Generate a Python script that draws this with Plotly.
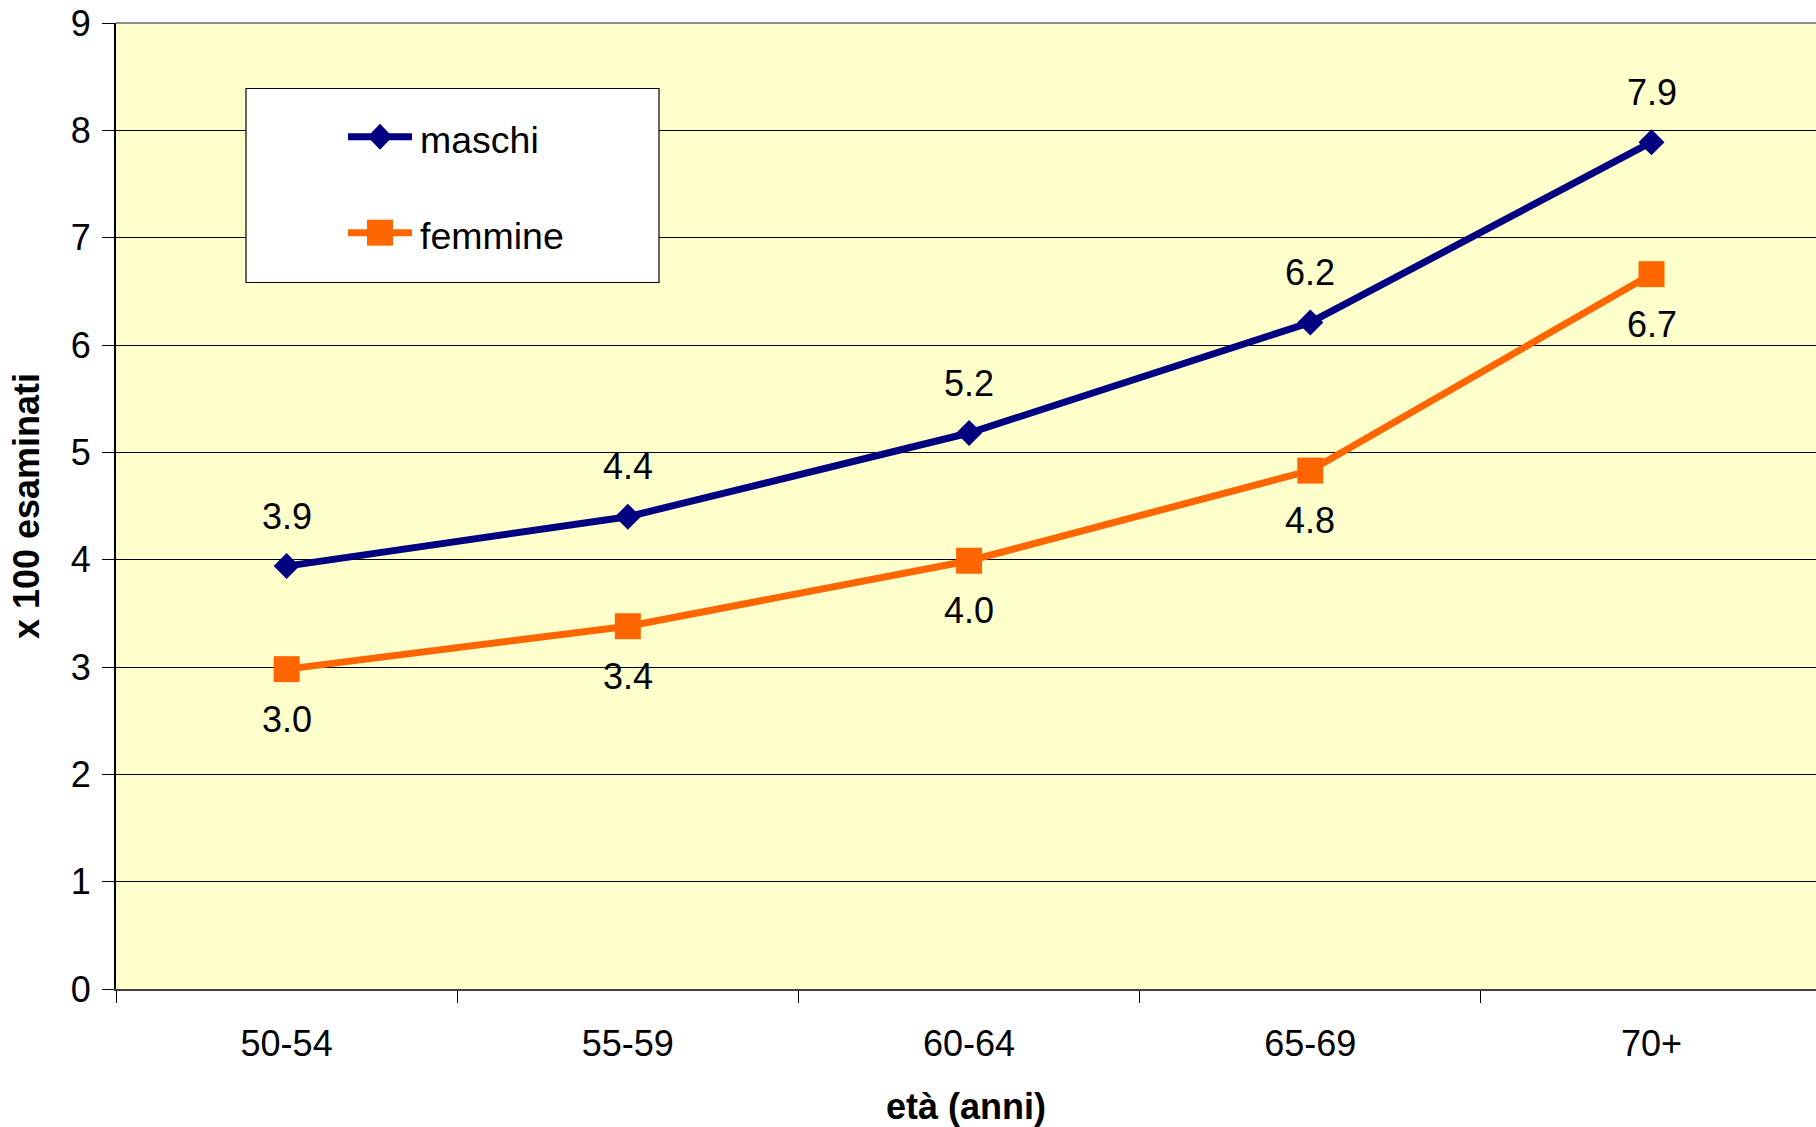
import plotly.graph_objects as go

# Age groups and rates (per 100 examined)
categories = ["50-54", "55-59", "60-64", "65-69", "70+"]
maschi = [3.94, 4.40, 5.18, 6.21, 7.89]
femmine = [2.98, 3.38, 3.99, 4.83, 6.66]
y_ticks = list(range(0, 10))

NAVY = "#000080"
ORANGE = "#FF6600"
FONT = "Liberation Sans, Arial, sans-serif"
FS = 36

W, H = 1816, 1127
ML, MR, MT, MB = 116, 0, 23, 138
PW, PH = W - ML - MR, H - MT - MB


def px(x):
    return (x - ML) / PW


def py(y):
    return (H - MB - y) / PH


fig = go.Figure()
fig.add_trace(go.Scatter(
    x=categories, y=maschi, mode="lines+markers", name="maschi",
    line=dict(color=NAVY, width=7),
    marker=dict(symbol="diamond", size=20, color=NAVY),
    showlegend=False,
))
fig.add_trace(go.Scatter(
    x=categories, y=femmine, mode="lines+markers", name="femmine",
    line=dict(color=ORANGE, width=7),
    marker=dict(symbol="square", size=26, color=ORANGE),
    showlegend=False,
))

# value labels: males above, females below the points
annotations = []
for c, v in zip(categories, maschi):
    annotations.append(dict(x=c, y=v, xref="x", yref="y", text=f"{v:.1f}",
                            showarrow=False, yshift=50,
                            font=dict(family=FONT, size=FS, color="black")))
for c, v in zip(categories, femmine):
    annotations.append(dict(x=c, y=v, xref="x", yref="y", text=f"{v:.1f}",
                            showarrow=False, yshift=-50,
                            font=dict(family=FONT, size=FS, color="black")))

# legend box
shapes = [
    dict(type="rect", xref="paper", yref="paper",
         x0=px(246), x1=px(659), y0=py(282.5), y1=py(88.5),
         fillcolor="white", line=dict(color="black", width=1.2), layer="above"),
    dict(type="line", xref="paper", yref="paper", x0=0, x1=1, y0=1, y1=1,
         line=dict(color="#8c8c8c", width=2), layer="above"),
]
legend_items = [
    ("maschi", NAVY, "M0,13L12.5,0L0,-13L-12.5,0Z", 136.7),
    ("femmine", ORANGE, "M-13,13H13V-13H-13Z", 232.7),
]
for label, color, path, yc in legend_items:
    shapes.append(dict(type="line", xref="paper", yref="paper",
                       x0=px(348), x1=px(412), y0=py(yc), y1=py(yc),
                       line=dict(color=color, width=7), layer="above"))
    shapes.append(dict(type="path", xref="paper", yref="paper",
                       xsizemode="pixel", ysizemode="pixel",
                       xanchor=px(380), yanchor=py(yc), path=path,
                       fillcolor=color, line=dict(width=0), layer="above"))
    annotations.append(dict(x=px(418), y=py(yc + 3), xref="paper", yref="paper",
                            xanchor="left", yanchor="middle", text=label,
                            showarrow=False,
                            font=dict(family=FONT, size=37.5, color="black")))

fig.update_layout(
    width=W, height=H,
    margin=dict(l=ML, r=MR, t=MT, b=MB, pad=0),
    paper_bgcolor="white",
    plot_bgcolor="#FFFFCC",
    font=dict(family=FONT, size=FS, color="black"),
    shapes=shapes,
    annotations=annotations,
    xaxis=dict(
        type="category",
        range=[-0.5, 4.482],
        tickson="boundaries",
        ticks="outside", ticklen=12, tickcolor="black", tickwidth=1,
        showgrid=False,
        showline=True, linecolor="#3f3f3f", linewidth=2,
        tickfont=dict(family=FONT, size=FS, color="black"),
        ticklabelstandoff=22,
        title=dict(text="<b>età (anni)</b>", standoff=31,
                   font=dict(family=FONT, size=FS, color="black")),
    ),
    yaxis=dict(
        range=[0, 9],
        tickvals=y_ticks,
        ticks="outside", ticklen=12, tickcolor="black", tickwidth=1,
        showgrid=True, gridcolor="black", gridwidth=1,
        zeroline=False,
        showline=True, linecolor="black", linewidth=2,
        tickfont=dict(family=FONT, size=FS, color="black"),
        ticklabelstandoff=4,
        title=dict(text="<b>x 100 esaminati</b>", standoff=20,
                   font=dict(family=FONT, size=FS, color="black")),
    ),
)

fig.write_html("out.html")
